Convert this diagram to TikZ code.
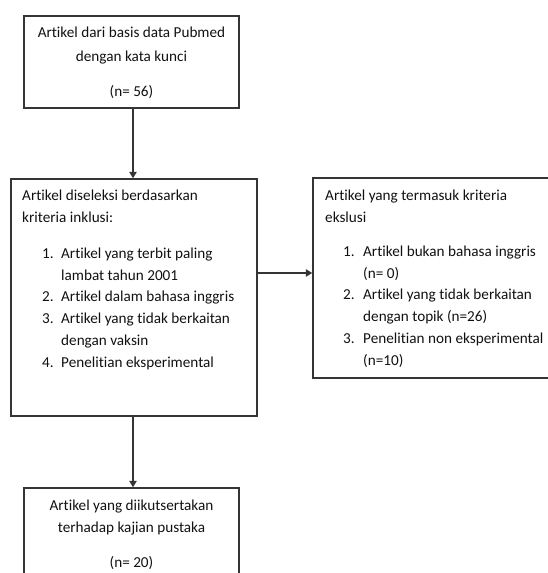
\documentclass[tikz,border=0pt]{standalone}
\usepackage{fontspec}
\setmainfont[Ligatures={NoCommon,NoRare}]{Carlito}
\usetikzlibrary{arrows.meta}
\definecolor{linec}{HTML}{353535}
\definecolor{txtc}{HTML}{111111}
\begin{document}
\begin{tikzpicture}[x=1pt,y=-1pt,
  box/.style={draw=linec,line width=1.5pt,rectangle,inner sep=0pt},
  arr/.style={draw=linec,line width=1.3pt,-{Triangle[width=7.5pt,length=6.5pt]}},
  txt/.style={text=txtc,inner sep=0pt,anchor=base west,font=\fontsize{15.2}{21.7}\selectfont},
  ctxt/.style={txt,anchor=base}]
\useasboundingbox (0,0) rectangle (548,573);
\clip (0,0) rectangle (548,573);
\node[box,minimum width=215pt,minimum height=92pt] (b1) at (131.5,62) {};
\node[box,minimum width=246pt,minimum height=237pt] (b2) at (134,297.5) {};
\node[box,minimum width=247pt,minimum height=200pt] (b3) at (436.5,278) {};
\node[box,minimum width=215pt,minimum height=112pt] (b4) at (131.5,544) {};
\node[ctxt,font=\fontsize{15.2}{24}\selectfont] (t1) at (131.5,37.5)
  {\begin{tabular}[t]{@{}c@{}}Artikel dari basis data Pubmed\\ dengan kata kunci\\[11pt] (n= 56)\end{tabular}};
\node[txt,font=\fontsize{15.2}{22}\selectfont] (t2) at (22,200.5)
  {\begin{tabular}[t]{@{}l@{}}Artikel diseleksi berdasarkan\\ kriteria inklusi:\end{tabular}};
\node[txt] (l2) at (42,258.5)
  {\begin{tabular}[t]{@{}p{19pt}@{}l@{}}1.&Artikel yang terbit paling\\ &lambat tahun 2001\\ 2.&Artikel dalam bahasa inggris\\ 3.&Artikel yang tidak berkaitan\\ &dengan vaksin\\ 4.&Penelitian eksperimental\end{tabular}};
\node[txt] (t3) at (325,200.5)
  {\begin{tabular}[t]{@{}l@{}}Artikel yang termasuk kriteria\\ ekslusi\end{tabular}};
\node[txt] (l3) at (343,256.5)
  {\begin{tabular}[t]{@{}p{20pt}@{}l@{}}1.&Artikel bukan bahasa inggris\\ &(n= 0)\\ 2.&Artikel yang tidak berkaitan\\ &dengan topik (n=26)\\ 3.&Penelitian non eksperimental\\ &(n=10)\end{tabular}};
\node[ctxt] (t4) at (131.5,510.5)
  {\begin{tabular}[t]{@{}c@{}}Artikel yang diikutsertakan\\ terhadap kajian pustaka\\[13.5pt] (n= 20)\end{tabular}};
\coordinate (h) at (0,273);
\coordinate (v) at (133,0);
\draw[arr] (b1.south -| v) -- (b2.north -| v);
\draw[arr] (b2.east |- h) -- (b3.west |- h);
\draw[arr] (b2.south -| v) -- (b4.north -| v);
\end{tikzpicture}
\end{document}
